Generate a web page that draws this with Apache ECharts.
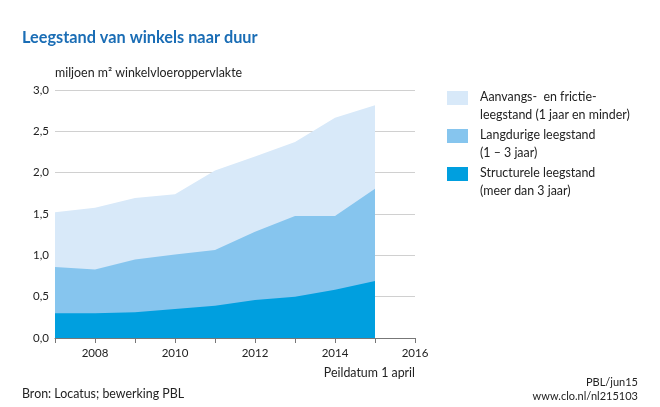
<!DOCTYPE html>
<html>
<head>
<meta charset="utf-8">
<script src="https://cdn.jsdelivr.net/npm/echarts@6/dist/echarts.min.js"></script>
<style>html,body{margin:0;padding:0;background:#fff;}#c{width:660px;height:407px;}</style>
</head>
<body>
<div id="c"></div>
<script>
var years = [2007, 2008, 2009, 2010, 2011, 2012, 2013, 2014, 2015];
var structureel = [0.30, 0.30, 0.31, 0.35, 0.39, 0.46, 0.50, 0.585, 0.69];
var langdurig = [0.56, 0.53, 0.64, 0.66, 0.675, 0.825, 0.975, 0.89, 1.115];
var aanvang = [0.66, 0.745, 0.745, 0.73, 0.96, 0.91, 0.895, 1.19, 1.01];
var seriesNames = ['Structurele leegstand (meer dan 3 jaar)', 'Langdurige leegstand (1 – 3 jaar)', 'Aanvangs- en frictieleegstand (1 jaar en minder)'];
var legendLines = [
  ['Aanvangs-  en frictie-', 'leegstand (1 jaar en minder)'],
  ['Langdurige leegstand', '(1 – 3 jaar)'],
  ['Structurele leegstand', '(meer dan 3 jaar)']
];
var colors = ['#009fdf', '#86c5ee', '#d8e9f9'];
var FONT = 'Lato, "Open Sans", sans-serif';

// cumulative totals (stack) built from the series arrays
var layers = [structureel, langdurig, aanvang];
var cumulative = [];
layers.forEach(function (arr, li) {
  cumulative.push(arr.map(function (v, i) { return li === 0 ? v : cumulative[li - 1][i] + v; }));
});
function pairs(arr) { return years.map(function (y, i) { return [y, +arr[i].toFixed(4)]; }); }

var chart = echarts.init(document.getElementById('c'));
var legendColors = [colors[2], colors[1], colors[0]];
var legendTops = [91, 129, 167];
var graphics = [];
legendLines.forEach(function (lines, i) {
  graphics.push({ type: 'rect', left: 447, top: legendTops[i], shape: { width: 21, height: 14 }, style: { fill: legendColors[i] } });
  graphics.push({ type: 'text', left: 480, top: legendTops[i] - 3, style: { text: lines.join('\n'), font: '12.4px ' + FONT, fill: '#222', lineHeight: 18 } });
});
graphics.push({ type: 'text', left: 22, top: 30, style: { text: 'Leegstand van winkels naar duur', font: 'bold 16.3px ' + FONT, fill: '#1a6db5' } });
graphics.push({ type: 'text', left: 55, top: 67, style: { text: 'miljoen m² winkelvloeroppervlakte', font: '12.4px ' + FONT, fill: '#222' } });
graphics.push({ type: 'text', right: 245, top: 367, style: { text: 'Peildatum 1 april', font: '12.4px ' + FONT, fill: '#222', textAlign: 'right' } });
graphics.push({ type: 'text', left: 22, top: 388, style: { text: 'Bron: Locatus; bewerking PBL', font: '12.4px ' + FONT, fill: '#222' } });
graphics.push({ type: 'text', right: 22, top: 377, style: { text: 'PBL/jun15', font: '11px ' + FONT, fill: '#222', textAlign: 'right' } });
graphics.push({ type: 'text', right: 22, top: 391, style: { text: 'www.clo.nl/nl215103', font: '11px ' + FONT, fill: '#222', textAlign: 'right' } });

chart.setOption({
  animation: false,
  grid: { left: 55, right: 245, top: 90, bottom: 69 },
  xAxis: {
    type: 'value', min: 2007, max: 2016, interval: 1,
    axisLine: { lineStyle: { color: '#777', width: 1 } },
    axisTick: { show: true, length: 5, lineStyle: { color: '#777' } },
    splitLine: { show: false },
    axisLabel: {
      color: '#222', fontSize: 11.5, fontFamily: FONT, margin: 9,
      formatter: function (v) { return v % 2 === 0 ? String(v) : ''; }
    }
  },
  yAxis: {
    type: 'value', min: 0, max: 3, interval: 0.5,
    axisLine: { show: false }, axisTick: { show: false },
    splitLine: { lineStyle: { color: '#d0d0d0', width: 1 } },
    axisLabel: {
      color: '#222', fontSize: 11.5, fontFamily: FONT, margin: 6,
      formatter: function (v) { return v.toFixed(1).replace('.', ','); }
    }
  },
  series: cumulative.map(function (arr, i) {
    return {
      name: seriesNames[i], type: 'line', data: pairs(arr),
      showSymbol: false, symbol: 'none', lineStyle: { width: 0 },
      areaStyle: { color: colors[i], opacity: 1, origin: 'start' }, z: 10 - i
    };
  }),
  graphic: graphics
});
</script>
</body>
</html>
